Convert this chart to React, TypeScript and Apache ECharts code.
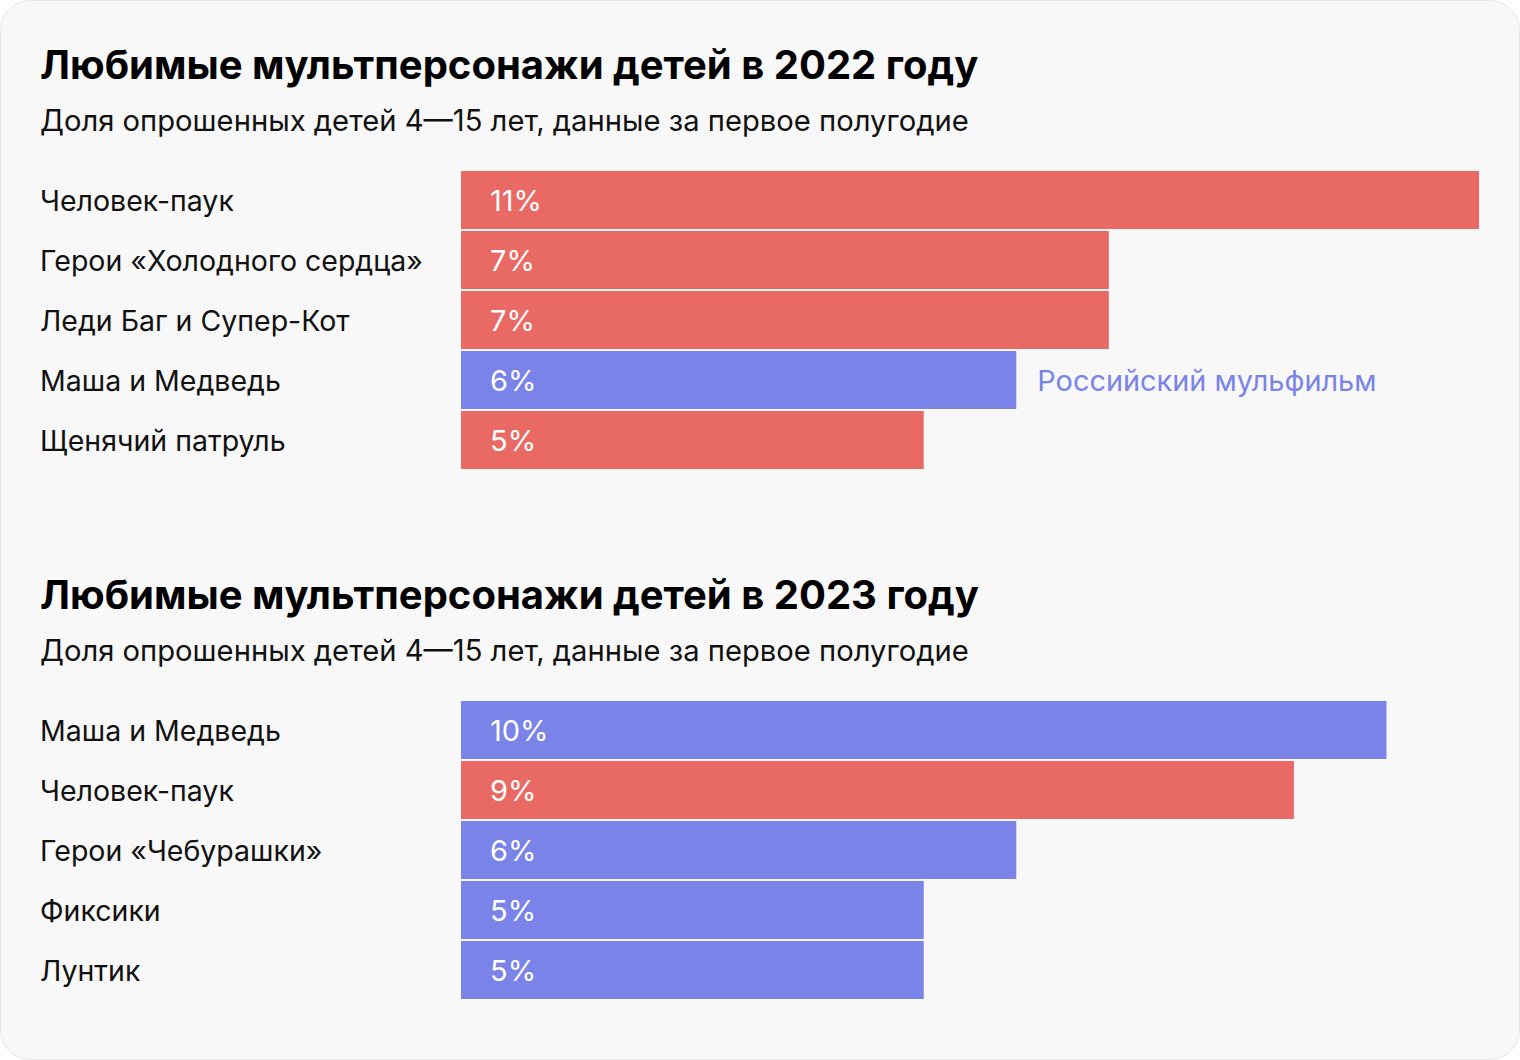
import React, { useEffect, useRef } from "react";
import * as echarts from "echarts";

const titles = ["Любимые мультперсонажи детей в 2022 году", "Любимые мультперсонажи детей в 2023 году"];
const subtitle = "Доля опрошенных детей 4—15 лет, данные за первое полугодие";

const categories2022 = ["Человек-паук", "Герои «Холодного сердца»", "Леди Баг и Супер-Кот", "Маша и Медведь", "Щенячий патруль"];
const values2022 = [11, 7, 7, 6, 5];
const russian2022 = [false, false, false, true, false];

const categories2023 = ["Маша и Медведь", "Человек-паук", "Герои «Чебурашки»", "Фиксики", "Лунтик"];
const values2023 = [10, 9, 6, 5, 5];
const russian2023 = [true, false, true, true, true];

const noteText = "Российский мульфильм";
const noteIndex2022 = 3;

const RED = "#e96a64";
const BLUE = "#7a83e8";
const FONT = "Inter, 'Noto Sans', sans-serif";

export default function App() {
  const ref = useRef<HTMLDivElement>(null);
  useEffect(() => {
    document.body.style.margin = "0";
    const chart = echarts.init(ref.current!, null, { renderer: "svg" });
    const mkData = (vals: number[], rus: boolean[]) =>
      vals.map((v, i) => ({ value: v, itemStyle: { color: rus[i] ? BLUE : RED } }));
    const yAxis = (cats: string[], idx: number) => ({
      type: "category",
      gridIndex: idx,
      data: cats,
      inverse: true,
      axisLine: { show: false },
      axisTick: { show: false },
      splitLine: { show: false },
      axisLabel: {
        align: "left",
        margin: 421,
        fontSize: 28.5,
        color: "#111111",
        fontFamily: FONT,
      },
    });
    const xAxis = (idx: number) => ({
      type: "value",
      gridIndex: idx,
      min: 0,
      max: 11,
      show: false,
    });
    const barLabel = {
      show: true,
      position: "insideLeft",
      distance: 29,
      formatter: "{c}%",
      color: "#ffffff",
      fontSize: 29,
      fontFamily: FONT,
    };
    chart.setOption({
      animation: false,
      backgroundColor: "transparent",
      graphic: [
        {
          type: "rect",
          shape: { x: 0.5, y: 0.5, width: 1519, height: 1059, r: 30 },
          style: { fill: "#f8f8f8", stroke: "#e6e6e6", lineWidth: 1 },
          z: -10,
        },
        { type: "text", x: 40, y: 64, style: { text: titles[0], fontSize: 40, fontWeight: "bold", fontFamily: FONT, fill: "#000", verticalAlign: "middle" } },
        { type: "text", x: 40, y: 120, style: { text: subtitle, fontSize: 29.2, fontFamily: FONT, fill: "#111", verticalAlign: "middle" } },
        { type: "text", x: 40, y: 594, style: { text: titles[1], fontSize: 40, fontWeight: "bold", fontFamily: FONT, fill: "#000", verticalAlign: "middle" } },
        { type: "text", x: 40, y: 650, style: { text: subtitle, fontSize: 29.2, fontFamily: FONT, fill: "#111", verticalAlign: "middle" } },
      ],
      grid: [
        { left: 461, top: 170, width: 1018, height: 300 },
        { left: 461, top: 700, width: 1018, height: 300 },
      ],
      xAxis: [xAxis(0), xAxis(1)],
      yAxis: [yAxis(categories2022, 0), yAxis(categories2023, 1)],
      series: [
        {
          type: "bar",
          xAxisIndex: 0,
          yAxisIndex: 0,
          barWidth: 58,
          data: mkData(values2022, russian2022),
          label: barLabel,
        },
        {
          type: "bar",
          xAxisIndex: 0,
          yAxisIndex: 0,
          barWidth: 58,
          barGap: "-100%",
          silent: true,
          itemStyle: { color: "transparent" },
          data: values2022.map((v, i) => ({
            value: v,
            label: { show: i === noteIndex2022 },
          })),
          label: {
            show: false,
            position: "right",
            distance: 21,
            formatter: noteText,
            color: BLUE,
            fontSize: 28.9,
            fontFamily: FONT,
          },
        },
        {
          type: "bar",
          xAxisIndex: 1,
          yAxisIndex: 1,
          barWidth: 58,
          data: mkData(values2023, russian2023),
          label: barLabel,
        },
      ],
    });
    return () => chart.dispose();
  }, []);
  return <div ref={ref} style={{ position: "absolute", left: 0, top: 0, width: 1520, height: 1060 }} />;
}
